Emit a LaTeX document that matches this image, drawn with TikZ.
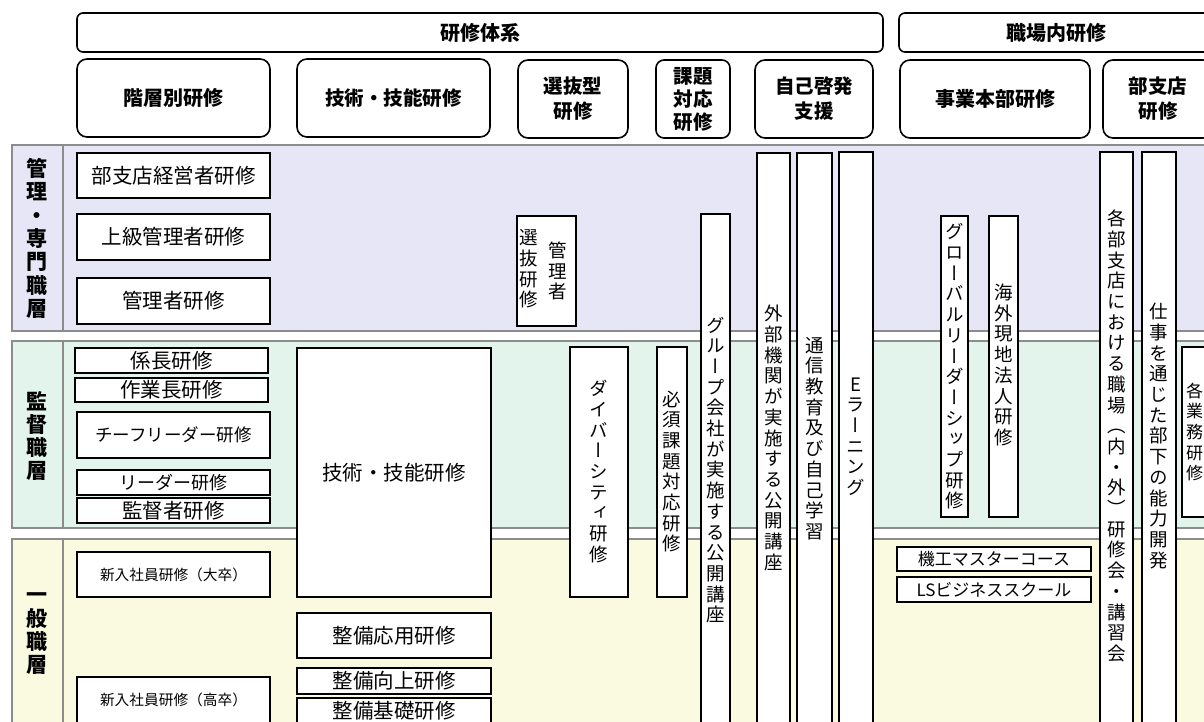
\documentclass[tikz,border=0pt]{standalone}
\usepackage{fontspec}
\setmainfont{Noto Sans CJK JP}
\newfontfamily\vjp{Noto Sans CJK JP}[RawFeature=+vert]
\definecolor{lav}{HTML}{E6E6F6}
\definecolor{mint}{HTML}{E3F4EC}
\definecolor{cream}{HTML}{FAFAE0}
\definecolor{bandgray}{HTML}{8C8C8C}
\ExplSyntaxOn
\NewDocumentCommand\vt{m}{
  \bool_set_true:N \l_tmpa_bool
  \tl_map_inline:nn {#1}{
    \bool_if:NTF \l_tmpa_bool {\bool_set_false:N \l_tmpa_bool}{\\}
    ##1
  }
}
\ExplSyntaxOff
\tikzset{
  box/.style={draw=black, line width=1.6pt, fill=white, inner sep=0pt, align=center,
    font=\fontsize{20.5}{24}\selectfont},
  hdr/.style={box, rounded corners=10pt, font=\fontsize{20}{24}\selectfont\bfseries},
  bandbox/.style={draw=bandgray, line width=2pt},
  vtxt/.style={inner sep=0pt, align=center, font=\fontsize{18.5}{20.7}\selectfont\vjp},
  lbl/.style={inner sep=0pt, align=center, font=\fontsize{21}{23.3}\selectfont\vjp\bfseries},
}
\newcommand\bx[7][]{\node[box,#1,minimum width={#5-#3},minimum height={#6-#4}] (#2) at ({(#3+#5)/2},{(#4+#6)/2}) {#7};}
\begin{document}
\begin{tikzpicture}[x=1pt,y=-1pt]
\useasboundingbox (0,0) rectangle (1204,722);
\clip (0,0) rectangle (1204,722);
\fill[white] (0,0) rectangle (1204,722);
% bands
\path[bandbox, fill=lav] (12,145) rectangle (1215,331);
\path[bandbox, fill=mint] (12,341) rectangle (1215,528);
\path[bandbox, fill=cream] (12,539) rectangle (1215,740);
\draw[bandgray, line width=2pt] (63,145) -- (63,331) (63,341) -- (63,528) (63,539) -- (63,740);
\node[lbl] (L1) at (37,238.5) {\vt{管理・専門職層}};
\node[lbl] (L2) at (37,436) {\vt{監督職層}};
\node[lbl] (L3) at (37,634) {\vt{一般職層}};
% header rows
\bx[hdr, rounded corners=6pt]{h1}{77}{13}{883}{52}{研修体系}
\bx[hdr, rounded corners=6pt]{h2}{899}{13}{1213}{52}{職場内研修}
\bx[hdr]{c1}{77}{59}{270}{137}{階層別研修}
\bx[hdr, font=\fontsize{19.5}{24}\selectfont\bfseries]{c2}{297}{59}{490}{137}{技術・技能研修}
\bx[hdr, font=\fontsize{19.5}{25}\selectfont\bfseries]{c3}{518}{60}{628}{138}{選抜型\\研修}
\bx[hdr, rounded corners=8pt, font=\fontsize{19.5}{23}\selectfont\bfseries]{c4}{656}{60}{730}{138}{課題\\対応\\研修}
\bx[hdr, font=\fontsize{19.5}{25}\selectfont\bfseries]{c5}{755}{60}{873}{138}{自己啓発\\支援}
\bx[hdr]{c6}{900}{60}{1090}{138}{事業本部研修}
\bx[hdr, font=\fontsize{19.5}{25}\selectfont\bfseries]{c7}{1103}{60}{1213}{138}{部支店\\研修}
% management band
\bx{k1}{77}{153}{270}{198}{部支店経営者研修}
\bx{k2}{77}{214}{270}{260}{上級管理者研修}
\bx{k3}{77}{278}{270}{324}{管理者研修}
% supervisor band
\bx{s1}{75}{348}{268}{373}{係長研修}
\bx{s2}{75}{378}{268}{402}{作業長研修}
\bx[font=\fontsize{17.5}{20}\selectfont]{s3}{77}{412}{270}{458}{チーフリーダー研修}
\bx[font=\fontsize{18}{20}\selectfont]{s4}{77}{470}{270}{495}{リーダー研修}
\bx{s5}{77}{498}{270}{523}{監督者研修}
% general band
\bx[font=\fontsize{14.7}{17}\selectfont]{g1}{77}{552}{270}{597}{新入社員研修（大卒）}
\bx[font=\fontsize{14.7}{17}\selectfont]{g2}{77}{677}{270}{723}{新入社員研修（高卒）}
% technical
\bx{t1}{297}{348}{491}{597}{技術・技能研修}
\bx{t2}{297}{613}{491}{658}{整備応用研修}
\bx{t3}{297}{668}{491}{694}{整備向上研修}
\bx{t4}{297}{698}{491}{724}{整備基礎研修}
% selection / issue columns
\bx{selB}{517}{216}{576}{326}{}
\node[vtxt] (selL) at (529,269) {\vt{選抜研修}};
\node[vtxt] (selR) at (558,271) {\vt{管理者}};
\bx{d1}{570}{347}{628}{597}{}
\node[vtxt] (d1t) at (599,471.5) {\vt{ダイバーシティ研修}};
\bx{d2}{657}{347}{687}{597}{}
\node[vtxt] (d2t) at (672,471.5) {\vt{必須課題対応研修}};
% self development columns
\bx{gr}{701}{214}{730}{740}{}
\node[vtxt] (grt) at (715.5,470) {\vt{グループ会社が実施する公開講座}};
\bx{ex}{757}{153}{790}{740}{}
\node[vtxt] (ext) at (773.5,438) {\vt{外部機関が実施する公開講座}};
\bx{tu}{797}{153}{832}{740}{}
\node[vtxt] (tut) at (814.5,438.5) {\vt{通信教育及び自己学習}};
\bx{el}{839}{152}{873}{740}{}
\node[vtxt] (elt) at (856,436.5) {\vt{Eラーニング}};
% business HQ columns
\bx{gl}{941}{216}{968}{517}{}
\node[vtxt] (glt) at (954.5,366.5) {\vt{グローバルリーダーシップ研修}};
\bx{ka}{989}{216}{1018}{517}{}
\node[vtxt] (kat) at (1003.5,365) {\vt{海外現地法人研修}};
\bx[font=\fontsize{17}{20}\selectfont]{m1}{897}{547}{1091}{571}{機工マスターコース}
\bx[font=\fontsize{17}{20}\selectfont]{m2}{897}{577}{1091}{602}{LSビジネススクール}
% branch columns
\bx{kk}{1100}{152}{1133}{740}{}
\node[vtxt] (kkt) at (1116.5,436) {\vt{各部支店における職場（内・外）研修会・講習会}};
\bx{sg}{1142}{152}{1176}{740}{}
\node[vtxt] (sgt) at (1159,436) {\vt{仕事を通じた部下の能力開発}};
\bx{gy}{1182}{347}{1215}{517}{}
\node[vtxt, font=\fontsize{17}{20.7}\selectfont\vjp] (gyt) at (1194.5,432) {\vt{各業務研修}};
\end{tikzpicture}
\end{document}
